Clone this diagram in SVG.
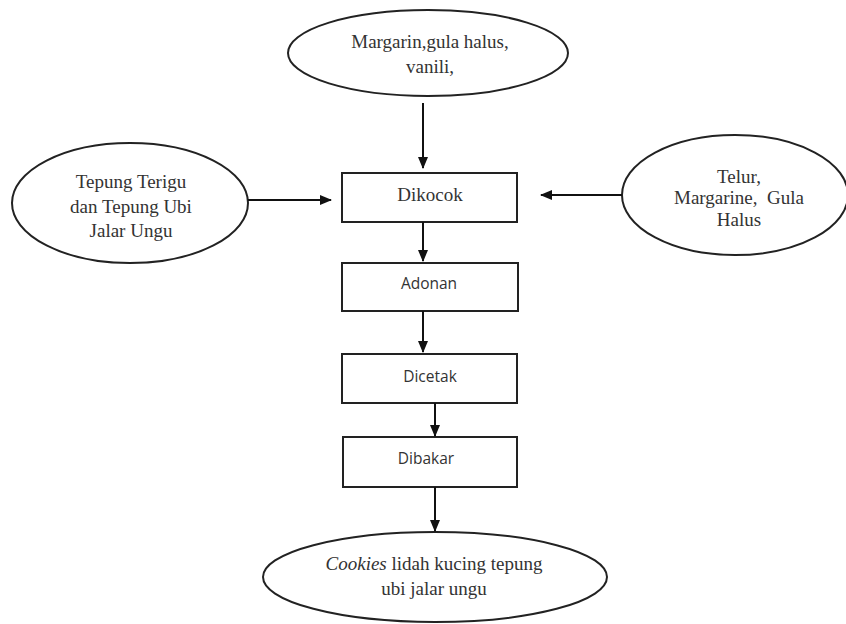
<svg xmlns="http://www.w3.org/2000/svg" width="846" height="624" viewBox="0 0 846 624">
<defs>
<marker id="ah" markerWidth="12" markerHeight="12" viewBox="0 0 12 12" refX="11" refY="6" orient="auto" markerUnits="userSpaceOnUse">
<path d="M0,1 L12,6 L0,11 Z" fill="#111"/>
</marker>
<style>
.shape{fill:#fff;stroke:#222;stroke-width:2}
.serif{font-family:"Liberation Serif","Times New Roman",serif;font-size:19px;fill:#333;text-anchor:middle}
.sans{font-family:"Open Sans","DejaVu Sans",sans-serif;font-size:15.5px;fill:#333;text-anchor:middle}
.conn{stroke:#111;stroke-width:2;fill:none;marker-end:url(#ah)}
</style>
</defs>
<rect width="846" height="624" fill="#fff"/>
<g id="n-top">
<ellipse class="shape" cx="428" cy="53" rx="140" ry="43"/>
<text class="serif" x="430" y="48">Margarin,gula halus,</text>
<text class="serif" x="430" y="73">vanili,</text>
</g>
<g id="n-left">
<ellipse class="shape" cx="130" cy="203" rx="118" ry="60"/>
<text class="serif" x="131" y="188">Tepung Terigu</text>
<text class="serif" x="131" y="213">dan Tepung Ubi</text>
<text class="serif" x="131" y="237">Jalar Ungu</text>
</g>
<g id="n-right">
<ellipse class="shape" cx="735" cy="195" rx="113" ry="60"/>
<text class="serif" x="739" y="183">Telur,</text>
<text class="serif" x="739" y="204" xml:space="preserve">Margarine,  Gula</text>
<text class="serif" x="739" y="226">Halus</text>
</g>
<g id="n-dikocok">
<rect class="shape" x="342" y="173" width="175" height="49"/>
<text class="serif" x="430" y="201">Dikocok</text>
</g>
<g id="n-adonan">
<rect class="shape" x="342" y="263" width="176" height="48"/>
<text class="sans" x="429" y="289">Adonan</text>
</g>
<g id="n-dicetak">
<rect class="shape" x="342" y="354" width="175" height="49"/>
<text class="sans" x="430" y="382">Dicetak</text>
</g>
<g id="n-dibakar">
<rect class="shape" x="343" y="437" width="174" height="50"/>
<text class="sans" x="426" y="464">Dibakar</text>
</g>
<g id="n-cookies">
<ellipse class="shape" cx="435" cy="577" rx="172" ry="45"/>
<text class="serif" x="434" y="570"><tspan font-style="italic">Cookies</tspan> lidah kucing tepung</text>
<text class="serif" x="434" y="595">ubi jalar ungu</text>
</g>
<g id="connectors">
<line class="conn" x1="423" y1="103" x2="423" y2="168"/>
<line class="conn" x1="248" y1="200" x2="331" y2="200"/>
<line class="conn" x1="622" y1="195" x2="541" y2="195"/>
<line class="conn" x1="423" y1="222" x2="423" y2="261"/>
<line class="conn" x1="423" y1="311" x2="423" y2="352"/>
<line class="conn" x1="435" y1="403" x2="435" y2="436"/>
<line class="conn" x1="435" y1="487" x2="435" y2="531"/>
</g>
</svg>
